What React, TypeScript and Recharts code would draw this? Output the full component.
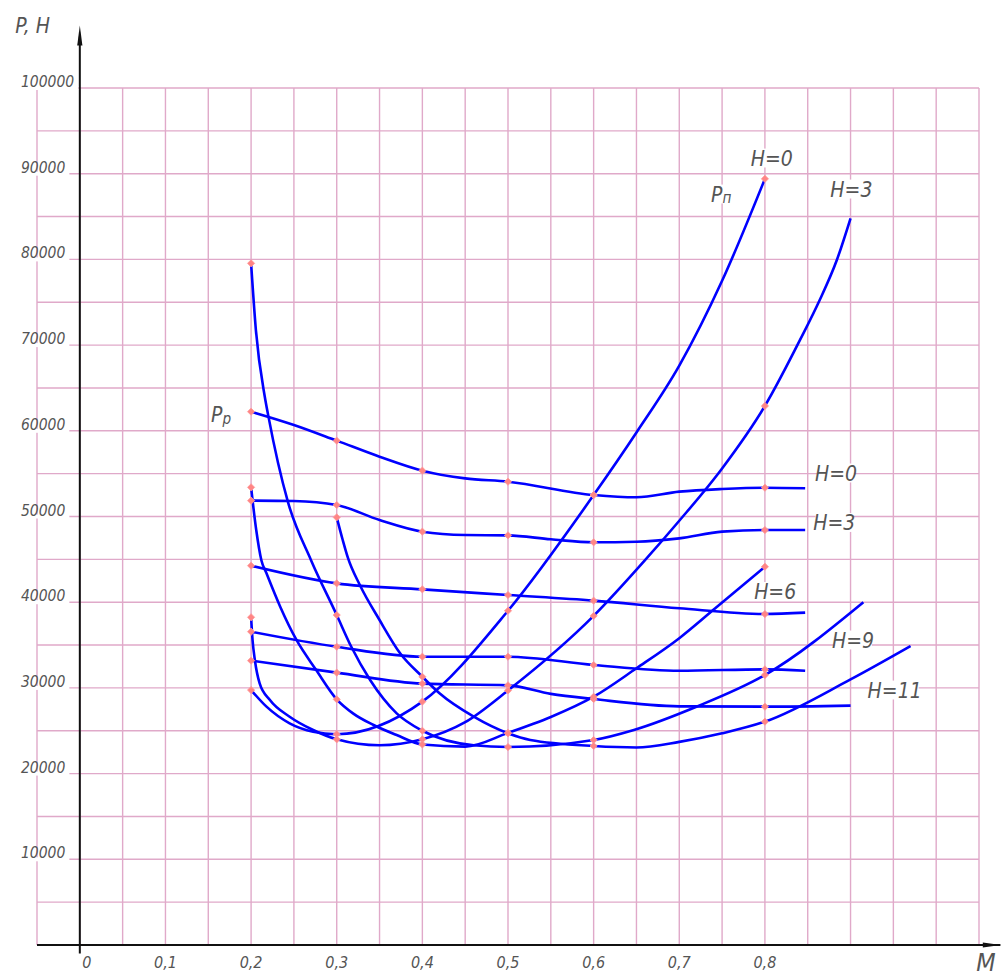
import React from 'react';
import { LineChart, Line, XAxis, YAxis, CartesianGrid, ReferenceLine, ReferenceDot } from 'recharts';

type Pt = [number, number];

// Required thrust P_п (U-shaped), by altitude H, km
const pnH0: Pt[] = [[0.2, 29750], [0.218, 27810], [0.245, 25870], [0.2725, 24890], [0.3, 24600], [0.4, 28400], [0.5, 39000], [0.6, 52500], [0.65, 59800], [0.7, 67600], [0.75, 77500], [0.8, 89400]];
const pnH3: Pt[] = [[0.2, 38240], [0.2017, 35590], [0.2044, 33260], [0.21, 30530], [0.222, 28590], [0.245, 26640], [0.2725, 25090], [0.3, 24000], [0.35, 23300], [0.4, 24000], [0.45, 26000], [0.5, 29700], [0.6, 38400], [0.66, 44900], [0.7, 49500], [0.75, 55600], [0.8, 62900], [0.841, 70600], [0.864, 75260], [0.884, 79930], [0.9, 84800]];
const pnH6: Pt[] = [[0.2, 53400], [0.206, 48420], [0.212, 44900], [0.218, 43370], [0.234, 39480], [0.253, 35590], [0.276, 32090], [0.3, 28670], [0.319, 27030], [0.343, 25670], [0.37, 24500], [0.4, 23400], [0.45, 23150], [0.5, 24750], [0.55, 26600], [0.6, 28970], [0.65, 32290], [0.7, 35800], [0.742, 39290], [0.8, 44140]];
const pnH9: Pt[] = [[0.2, 79540], [0.2056, 71760], [0.216, 63980], [0.22, 61800], [0.243, 51700], [0.27, 44900], [0.3, 38500], [0.317, 34800], [0.339, 30920], [0.37, 27030], [0.4, 25000], [0.46, 23300], [0.5, 23100], [0.6, 23920], [0.647, 25090], [0.72, 27800], [0.8, 31500], [0.915, 40000]];
const pnH11: Pt[] = [[0.3, 49900], [0.307, 47260], [0.313, 45200], [0.327, 42000], [0.35, 37920], [0.374, 34040], [0.4, 31300], [0.42, 29370], [0.46, 26640], [0.5, 24700], [0.526, 23920], [0.6, 23220], [0.65, 23050], [0.7, 23700], [0.75, 24700], [0.8, 26060], [0.9, 31000], [0.97, 34890]];

// Available thrust P_р, by altitude H, km
const ppH0: Pt[] = [[0.2, 62230], [0.25, 60680], [0.3, 58850], [0.35, 56980], [0.4, 55350], [0.45, 54450], [0.5, 54060], [0.6, 52510], [0.65, 52240], [0.7, 52900], [0.75, 53210], [0.8, 53360], [0.847, 53300]];
const ppH3: Pt[] = [[0.2, 51850], [0.25, 51800], [0.3, 51340], [0.35, 49590], [0.4, 48230], [0.45, 47840], [0.5, 47800], [0.55, 47340], [0.6, 46990], [0.65, 47050], [0.7, 47450], [0.75, 48230], [0.8, 48420], [0.847, 48420]];
const ppH6: Pt[] = [[0.2, 44260], [0.3, 42200], [0.4, 41500], [0.5, 40840], [0.6, 40180], [0.7, 39290], [0.8, 38620], [0.847, 38780]];
const ppH9: Pt[] = [[0.2, 36560], [0.3, 34800], [0.4, 33640], [0.5, 33640], [0.6, 32670], [0.7, 32000], [0.8, 32160], [0.847, 32000]];
const ppH11: Pt[] = [[0.2, 33180], [0.3, 31780], [0.4, 30500], [0.5, 30300], [0.55, 29300], [0.6, 28700], [0.7, 27850], [0.8, 27810], [0.9, 27930]];

const allSeries: Pt[][] = [ppH0, ppH3, ppH6, ppH9, ppH11, pnH0, pnH3, pnH6, pnH9, pnH11];

// M values at which the computed points are marked
const markedM = [0.2, 0.3, 0.4, 0.5, 0.6, 0.8];

// grid / ticks
const xGrid = [0, 0.05, 0.1, 0.15, 0.2, 0.25, 0.3, 0.35, 0.4, 0.45, 0.5, 0.55, 0.6, 0.65, 0.7, 0.75, 0.8, 0.85, 0.9, 0.95, 1.0, 1.05];
const xLabelTicks = [0, 0.1, 0.2, 0.3, 0.4, 0.5, 0.6, 0.7, 0.8];
const xLabels = ['0', '0,1', '0,2', '0,3', '0,4', '0,5', '0,6', '0,7', '0,8'];
const yGrid = [0, 5000, 10000, 15000, 20000, 25000, 30000, 35000, 40000, 45000, 50000, 55000, 60000, 65000, 70000, 75000, 80000, 85000, 90000, 95000, 100000];
const yLabelTicks = [10000, 20000, 30000, 40000, 50000, 60000, 70000, 80000, 90000, 100000];
const yLabels = ['10000', '20000', '30000', '40000', '50000', '60000', '70000', '80000', '90000', '100000'];

// curve annotations (data coordinates)
const curveLabels = [
  { text: 'H=0', sub: '', M: 0.808, P: 91830 },
  { text: 'H=3', sub: '', M: 0.901, P: 88210 },
  { text: 'P', sub: 'п', M: 0.749, P: 87630 },
  { text: 'P', sub: 'р', M: 0.165, P: 61900 },
  { text: 'H=0', sub: '', M: 0.883, P: 55080 },
  { text: 'H=3', sub: '', M: 0.881, P: 49300 },
  { text: 'H=6', sub: '', M: 0.812, P: 41250 },
  { text: 'H=9', sub: '', M: 0.903, P: 35590 },
  { text: 'H=11', sub: '', M: 0.9515, P: 29750 },
];

const FONT = "'DejaVu Sans Condensed', 'DejaVu Sans', sans-serif";
const TEXT_FILL = '#555';
const GRID = '#e0a9c9';
const BLUE = '#0000ff';
const TICK_SIZE = 15.5;

const near = (a: number, b: number) => Math.abs(a - b) < 1e-6;

const rows = (pts: Pt[]) => pts.map(([M, P]) => ({ M, P }));

const renderDot = (props: any) => {
  const { cx, cy, payload, index } = props;
  const key = `dot-${index}-${payload?.M}`;
  if (!payload || !markedM.some((m) => near(m, payload.M))) return <g key={key} />;
  const s = 3.6;
  return (
    <path
      key={key}
      d={`M${cx},${cy - s} L${cx + s},${cy} L${cx},${cy + s} L${cx - s},${cy} Z`}
      fill="#ff8585"
      stroke="#ff9a9a"
      strokeWidth={0.8}
    />
  );
};

const XTick = (props: any) => {
  const { x, y, payload } = props;
  const i = xLabelTicks.findIndex((t) => near(t, payload.value));
  if (i < 0) return <g />;
  return (
    <text x={x + (payload.value === 0 ? 7 : 0)} y={y + 15} textAnchor="middle" fontFamily={FONT} fontStyle="italic" fontSize={16} fill={TEXT_FILL}>
      {xLabels[i]}
    </text>
  );
};

const YTick = (props: any) => {
  const { y, payload } = props;
  const i = yLabelTicks.findIndex((t) => near(t, payload.value));
  if (i < 0) return <g />;
  const label = yLabels[i];
  const end = 21 + label.length * 0.572 * TICK_SIZE + 4;
  return (
    <g>
      <rect x={34} y={y - 2} width={end - 34} height={4} fill="#fff" />
      <text x={21} y={y - 1} textAnchor="start" fontFamily={FONT} fontStyle="italic" fontSize={TICK_SIZE} fill={TEXT_FILL}>
        {label}
      </text>
    </g>
  );
};

const makeLabel = (text: string, sub: string, size: number, bg: boolean) => (props: any) => {
  const { cx, cy } = props;
  const w = (text.length + sub.length * 0.7) * size * 0.5;
  return (
    <g>
      {bg && <rect x={cx - w / 2 - 3} y={cy - size * 0.45} width={w + 6} height={size * 0.9} fill="#fff" />}
      <text x={cx} y={cy + size * 0.36} textAnchor="middle" fontFamily={FONT} fontStyle="italic" fontSize={size} fill={TEXT_FILL}>
        {text}
        {sub && (
          <tspan fontSize={size * 0.72} dy={size * 0.08}>
            {sub}
          </tspan>
        )}
      </text>
    </g>
  );
};

const arrowUp = (props: any) => {
  const { cx, cy } = props;
  return <polygon points={`${cx},${cy} ${cx - 2.6},${cy + 20} ${cx + 2.6},${cy + 20}`} fill="#111" />;
};
const arrowRight = (props: any) => {
  const { cx, cy } = props;
  return <polygon points={`${cx},${cy} ${cx - 18},${cy - 2.6} ${cx - 18},${cy + 2.6}`} fill="#111" />;
};

export default function App() {
  return (
    <div style={{ position: 'absolute', left: 0, top: 0, background: '#fff' }}>
      <LineChart width={1001} height={976} margin={{ top: 88, right: 22, bottom: 0, left: 0 }}>
        <CartesianGrid stroke={GRID} strokeWidth={1.4} />
        <XAxis
          type="number"
          dataKey="M"
          domain={[-0.05, 1.05]}
          ticks={xGrid}
          interval={0}
          axisLine={false}
          tickLine={false}
          tick={<XTick />}
          height={31}
          allowDataOverflow
        />
        <YAxis
          type="number"
          dataKey="P"
          domain={[0, 100000]}
          ticks={yGrid}
          interval={0}
          axisLine={false}
          tickLine={false}
          tick={<YTick />}
          width={37}
          allowDataOverflow
        />
        <ReferenceLine
          segment={[{ x: -0.05, y: 0 }, { x: 1.075, y: 0 }]}
          stroke="#111"
          strokeWidth={2}
          ifOverflow="visible"
        />
        <ReferenceLine
          segment={[{ x: 0, y: -1000 }, { x: 0, y: 106000 }]}
          stroke="#111"
          strokeWidth={2}
          ifOverflow="visible"
        />
        {allSeries.map((s, i) => (
          <Line
            key={`s${i}`}
            data={rows(s)}
            dataKey="P"
            type="monotone"
            stroke={BLUE}
            strokeWidth={2.6}
            dot={renderDot}
            activeDot={false}
            isAnimationActive={false}
          />
        ))}
        <ReferenceDot x={0} y={107300} r={0} ifOverflow="visible" shape={arrowUp} />
        <ReferenceDot x={1.0755} y={0} r={0} ifOverflow="visible" shape={arrowRight} />
        {curveLabels.map((l, i) => (
          <ReferenceDot key={`l${i}`} x={l.M} y={l.P} r={0} ifOverflow="visible" shape={makeLabel(l.text, l.sub, 21, true)} />
        ))}
        <ReferenceDot x={-0.055} y={107350} r={0} ifOverflow="visible" shape={makeLabel('P, H', '', 21, false)} />
        <ReferenceDot x={1.058} y={-1984} r={0} ifOverflow="visible" shape={makeLabel('M', '', 25, false)} />
      </LineChart>
    </div>
  );
}
